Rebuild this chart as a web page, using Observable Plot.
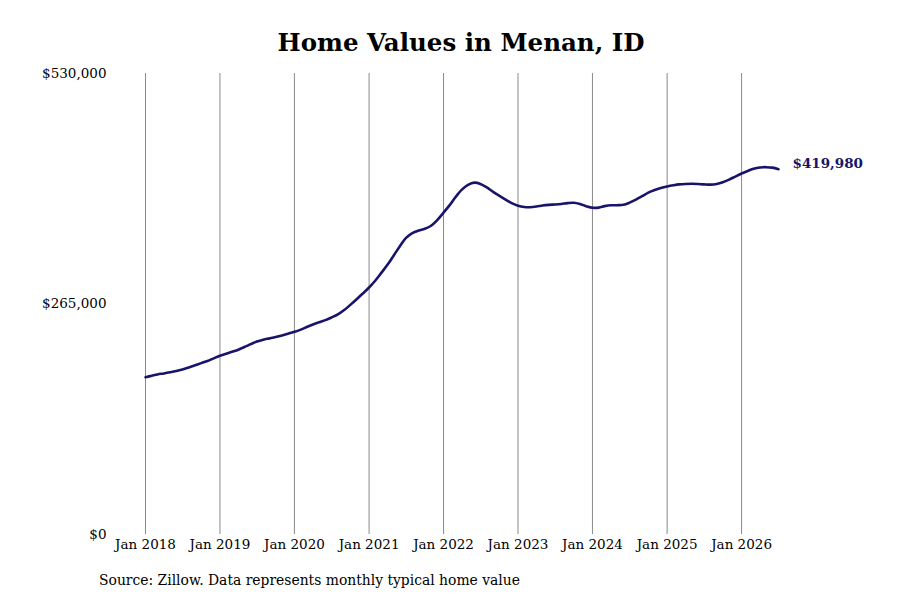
<!DOCTYPE html>
<html>
<head>
<meta charset="utf-8">
<script src="https://cdn.jsdelivr.net/npm/d3@7"></script>
<script src="https://cdn.jsdelivr.net/npm/@observablehq/plot@0.6"></script>
<style>
  html, body { margin: 0; padding: 0; background: #fff; }
  #wrap { position: relative; width: 900px; height: 600px; font-family: "DejaVu Serif", serif; }
  #title { position: absolute; left: 0; top: 28px; width: 922px; text-align: center; font-weight: bold; font-size: 24.5px; color: #000; }
  #caption { position: absolute; left: 99px; top: 572px; font-size: 13.9px; color: #000; }
  #chart { position: absolute; left: 0; top: 0; }
</style>
</head>
<body>
<div id="wrap">
  <div id="chart"></div>
  <div id="title">Home Values in Menan, ID</div>
  <div id="caption">Source: Zillow. Data represents monthly typical home value</div>
</div>
<script>
// Monthly typical home values, starting Jan 2018
const startMonth = "2018-01-01";
const v2018 = [180800, 182500, 184000, 185200, 186500, 188000, 189800, 192000, 194500, 197000, 199500, 202500];
const v2019 = [205500, 207800, 210000, 212500, 215500, 218800, 221800, 224000, 225500, 227000, 228800, 230800];
const v2020 = [233000, 235500, 238500, 241500, 244000, 246500, 249500, 253000, 258000, 264000, 270500, 277000];
const v2021 = [284000, 292000, 300500, 310000, 320500, 331500, 341000, 346500, 349500, 351500, 355000, 361500];
const v2022 = [370000, 379000, 388000, 396500, 402000, 404500, 403000, 399000, 394000, 389500, 385000, 381000];
const v2023 = [378000, 376500, 376300, 377000, 378200, 379000, 379400, 380000, 381000, 381400, 380000, 377500];
const v2024 = [375600, 375800, 377500, 378500, 378600, 379000, 381500, 385000, 389000, 393000, 396000, 398300];
const v2025 = [400100, 401500, 402500, 403000, 403200, 403000, 402500, 402200, 403000, 405000, 408000, 411500];
const v2026 = [415000, 418000, 420500, 422000, 422300, 421800, 419980];

const yTicks = [0, 265000, 530000];
const xTickYears = ["2018", "2019", "2020", "2021", "2022", "2023", "2024", "2025", "2026"];
const lastLabel = "$419,980";

const values = [].concat(v2018, v2019, v2020, v2021, v2022, v2023, v2024, v2025, v2026);
const start = new Date(startMonth + "T00:00:00Z");
const data = values.map((v, i) => ({ date: d3.utcMonth.offset(start, i), value: v }));
const last = data[data.length - 1];
const xTicks = xTickYears.map(y => new Date(y + "-01-01T00:00:00Z"));

const lineColor = "#17146a";

const chart = Plot.plot({
  width: 900,
  height: 600,
  marginLeft: 145,
  marginRight: 122,
  marginTop: 73,
  marginBottom: 66,
  style: { fontFamily: "DejaVu Serif, serif", fontSize: "13.5px", color: "#000", background: "#fff" },
  x: { type: "utc", domain: [data[0].date, last.date], ticks: xTicks, tickFormat: d3.utcFormat("Jan %Y"), tickSize: 0, tickPadding: 5, label: null },
  y: { domain: [0, 530000], ticks: yTicks, tickFormat: d => "$" + d3.format(",")(d), tickSize: 0, tickPadding: 39, label: null },
  marks: [
    Plot.gridX(xTicks, { stroke: "#8a8a8a", strokeOpacity: 1, strokeWidth: 1 }),
    Plot.axisX({ ticks: xTicks, tickFormat: d3.utcFormat("Jan %Y"), tickSize: 0, tickPadding: 5, label: null, fill: "#000" }),
    Plot.axisY({ ticks: yTicks, tickFormat: d => "$" + d3.format(",")(d), tickSize: 0, tickPadding: 39, label: null, fill: "#000" }),
    Plot.line(data, { x: "date", y: "value", stroke: lineColor, strokeWidth: 2.6, curve: "catmull-rom" }),
    Plot.text([last], { x: "date", y: "value", text: () => lastLabel, textAnchor: "start", dx: 14, dy: -6, fill: lineColor, fontWeight: "bold", fontSize: 13.5 })
  ]
});
document.getElementById("chart").appendChild(chart);
</script>
</body>
</html>
